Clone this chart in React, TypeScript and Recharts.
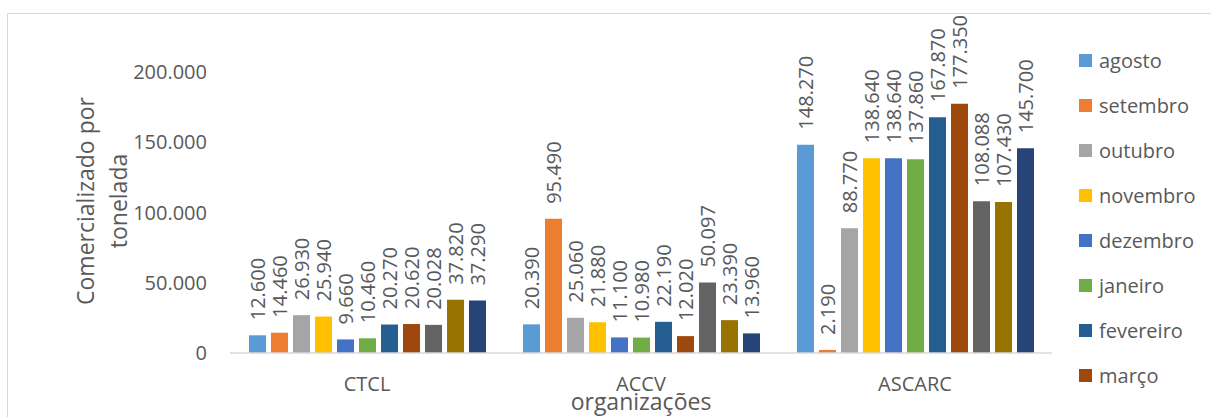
import React from 'react';
import { BarChart, Bar, XAxis, YAxis, LabelList } from 'recharts';

const CATEGORIES = ['CTCL', 'ACCV', 'ASCARC'];

const SERIES = ['agosto', 'setembro', 'outubro', 'novembro', 'dezembro', 'janeiro', 'fevereiro', 'março', 'abril', 'maio', 'junho'];

const COLORS = ['#5B9BD5', '#ED7D31', '#A5A5A5', '#FFC000', '#4472C4', '#70AD47', '#255E91', '#9E480E', '#636363', '#997300', '#264478'];

const CTCL = [12600, 14460, 26930, 25940, 9660, 10460, 20270, 20620, 20028, 37820, 37290];
const ACCV = [20390, 95490, 25060, 21880, 11100, 10980, 22190, 12020, 50097, 23390, 13960];
const ASCARC = [148270, 2190, 88770, 138640, 138640, 137860, 167870, 177350, 108088, 107430, 145700];

const Y_TICKS = [0, 50000, 100000, 150000, 200000];

const VALUES = [CTCL, ACCV, ASCARC];

const data = CATEGORIES.map((name, i) => {
  const row: Record<string, string | number> = { name };
  SERIES.forEach((s, j) => {
    row[s] = VALUES[i][j];
  });
  return row;
});

const FONT = '"Open Sans", sans-serif';
const TEXT = '#595959';

const fmt = (v: number) => String(v).replace(/\B(?=(\d{3})+(?!\d))/g, '.');

// rotated label sitting above the bar
const BarLabel = (props: any) => {
  const { x, y, width, value } = props;
  const cx = x + width / 2;
  const ty = y - 15;
  return (
    <text
      x={cx}
      y={ty}
      transform={`rotate(-90, ${cx}, ${ty})`}
      textAnchor="start"
      dominantBaseline="central"
      fill={TEXT}
      fontSize={20}
      fontFamily={FONT}
    >
      {fmt(value)}
    </text>
  );
};

const YTitle = () => {
  const cy = 201;
  return (
    <g fill={TEXT} fontSize={23} fontFamily={FONT}>
      <text x={85} y={cy} transform={`rotate(-90, 85, ${cy})`} textAnchor="middle" dominantBaseline="central">
        Comercializado por
      </text>
      <text x={118} y={cy} transform={`rotate(-90, 118, ${cy})`} textAnchor="middle" dominantBaseline="central">
        tonelada
      </text>
    </g>
  );
};

const XTitle = (props: any) => {
  const { viewBox } = props;
  const cx = viewBox.x + viewBox.width / 2;
  return (
    <text x={cx} y={401} textAnchor="middle" dominantBaseline="central" fill={TEXT} fontSize={23} fontFamily={FONT}>
      organizações
    </text>
  );
};

export default function App() {
  return (
    <div style={{ position: 'absolute', left: 0, top: 0, width: 1211, height: 417, overflow: 'hidden', background: '#fff', fontFamily: FONT }}>
      <div style={{ position: 'absolute', left: 7, top: 13, width: 1300, height: 500, border: '1.5px solid #D9D9D9' }} />
      <div style={{ position: 'absolute', left: 0, top: 0 }}>
        <BarChart
          width={1211}
          height={417}
          data={data}
          margin={{ top: 72, right: 159, bottom: 0, left: 0 }}
          barSize={17}
          barGap={5}
        >
          <XAxis
            dataKey="name"
            height={64}
            tickLine={false}
            tickSize={0}
            tickMargin={24}
            axisLine={{ stroke: '#D9D9D9', strokeWidth: 1.5 }}
            tick={{ fill: TEXT, fontSize: 20, fontFamily: FONT }}
            label={{ content: (p: any) => <XTitle {...p} /> }}
          />
          <YAxis
            width={230}
            domain={[0, 200000]}
            ticks={Y_TICKS}
            tickFormatter={fmt}
            axisLine={false}
            tickLine={false}
            tickSize={0}
            tickMargin={23}
            tick={{ fill: TEXT, fontSize: 20, fontFamily: FONT }}
            label={{ content: () => <YTitle /> }}
          />
          {SERIES.map((s, i) => (
            <Bar key={s} dataKey={s} fill={COLORS[i]} isAnimationActive={false}>
              <LabelList dataKey={s} content={<BarLabel />} />
            </Bar>
          ))}
        </BarChart>
      </div>
      {/* legend box is cut off by the chart area, like the original */}
      <div style={{ position: 'absolute', left: 1079, top: 0, width: 132, height: 398, overflow: 'hidden' }}>
        {SERIES.map((s, i) => (
          <div key={s} style={{ position: 'absolute', top: 60 + i * 45 - 15, left: 0, height: 30, display: 'flex', alignItems: 'center', whiteSpace: 'nowrap' }}>
            <span style={{ width: 13, height: 13, background: COLORS[i], display: 'inline-block' }} />
            <span style={{ marginLeft: 7, fontSize: 20, color: TEXT }}>{s}</span>
          </div>
        ))}
      </div>
    </div>
  );
}
